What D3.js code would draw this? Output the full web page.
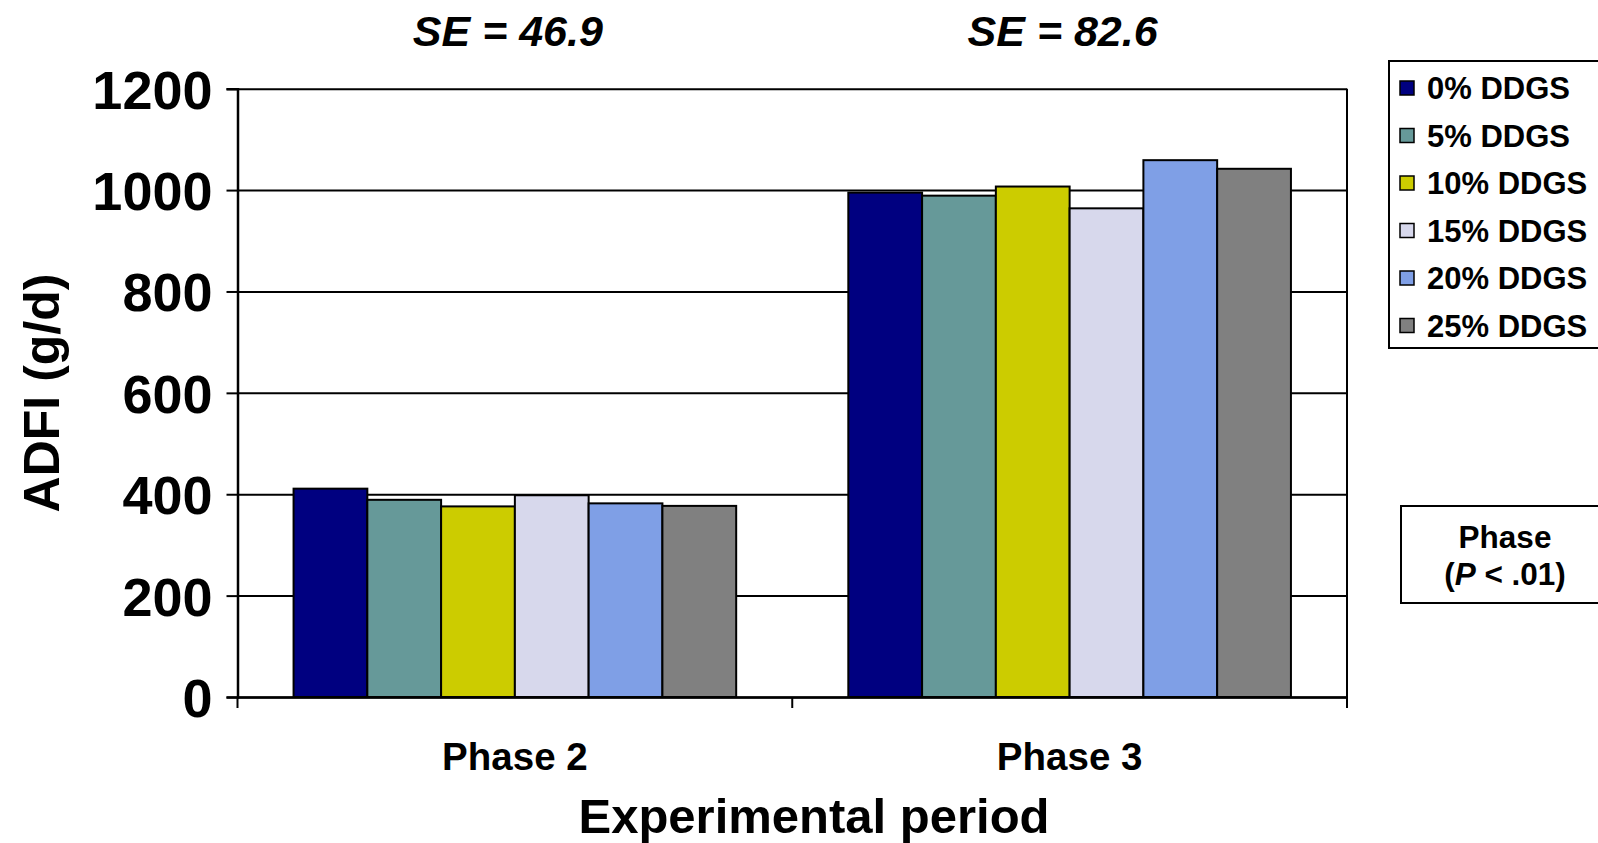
<!DOCTYPE html>
<html>
<head>
<meta charset="utf-8">
<script src="https://cdn.jsdelivr.net/npm/d3@7"></script>
<style>
  html, body { margin: 0; padding: 0; background: #fff; }
  svg { display: block; font-family: "Liberation Sans", Arial, sans-serif; font-weight: bold; }
</style>
</head>
<body>
<svg id="chart" width="1598" height="843"></svg>
<script>
// ---- data ----
const phases = ["Phase 2", "Phase 3"];
const series = ["0% DDGS", "5% DDGS", "10% DDGS", "15% DDGS", "20% DDGS", "25% DDGS"];
const phase2Values = [411, 389, 376, 398, 382, 377];
const phase3Values = [995, 989, 1007, 964, 1059, 1042];
const seLabels = ["SE = 46.9", "SE = 82.6"];
const yTicks = [0, 200, 400, 600, 800, 1000, 1200];
const colors = ["#000080", "#669999", "#CCCC00", "#D7D8EC", "#7F9FE6", "#808080"];

const values = [phase2Values, phase3Values];

// ---- layout ----
const svg = d3.select("#chart");
const plotL = 237.5, plotR = 1347, plotT = 88.7, plotB = 697;

const x0 = d3.scaleBand().domain(phases).range([plotL, plotR]).paddingInner(0).paddingOuter(0);
const x1 = d3.scaleBand().domain(series).range([0, x0.bandwidth()]).paddingInner(0).paddingOuter(0.76);
const y = d3.scaleLinear().domain([0, 1200]).range([plotB, plotT]);
const color = d3.scaleOrdinal().domain(series).range(colors);

// gridlines
const grid = svg.append("g")
  .attr("transform", `translate(${plotL},0)`)
  .call(d3.axisLeft(y).tickValues(yTicks).tickSize(-(plotR - plotL)).tickFormat(""));
grid.select(".domain").remove();
grid.selectAll("line").attr("stroke", "#000").attr("stroke-width", 2);

// right border
svg.append("line").attr("x1", plotR).attr("x2", plotR).attr("y1", plotT).attr("y2", plotB)
  .attr("stroke", "#000").attr("stroke-width", 2);

// bars
const groups = svg.append("g").selectAll("g")
  .data(phases).join("g")
  .attr("transform", d => `translate(${x0(d)},0)`);

groups.selectAll("rect")
  .data((d, i) => series.map((s, j) => ({ s, v: values[i][j] })))
  .join("rect")
  .attr("x", d => x1(d.s))
  .attr("width", x1.bandwidth())
  .attr("y", d => y(d.v))
  .attr("height", d => y(0) - y(d.v))
  .attr("fill", d => color(d.s))
  .attr("stroke", "#000")
  .attr("stroke-width", 2);

// y axis
const yAxis = svg.append("g")
  .attr("transform", `translate(${plotL},0)`)
  .call(d3.axisLeft(y).tickValues(yTicks).tickSize(11).tickPadding(14).tickFormat(d3.format("d")));
yAxis.select(".domain").attr("stroke", "#000").attr("stroke-width", 2.5);
yAxis.selectAll(".tick line").attr("stroke", "#000").attr("stroke-width", 2);
yAxis.selectAll(".tick text")
  .attr("font-size", 54).attr("font-weight", "bold").attr("fill", "#000")
  .attr("font-family", "Liberation Sans, Arial, sans-serif")
  .attr("dy", "0.36em");

// x axis
const xAxis = svg.append("g")
  .attr("transform", `translate(0,${plotB})`)
  .call(d3.axisBottom(x0).tickSize(0).tickPadding(46));
xAxis.select(".domain").attr("stroke", "#000").attr("stroke-width", 2.5);
xAxis.selectAll(".tick text")
  .attr("font-size", 38.5).attr("font-weight", "bold").attr("fill", "#000")
  .attr("font-family", "Liberation Sans, Arial, sans-serif");

// category boundary ticks
const boundaries = [plotL, x0(phases[1]), plotR];
svg.append("g").selectAll("line")
  .data(boundaries).join("line")
  .attr("x1", d => d).attr("x2", d => d)
  .attr("y1", plotB).attr("y2", plotB + 11)
  .attr("stroke", "#000").attr("stroke-width", 2);

// SE labels
svg.append("g").selectAll("text")
  .data(seLabels).join("text")
  .attr("x", (d, i) => x0(phases[i]) + x0.bandwidth() / 2 - 7)
  .attr("y", 46)
  .attr("text-anchor", "middle")
  .attr("font-size", 43)
  .attr("font-style", "italic")
  .attr("font-weight", "bold")
  .text(d => d);

// axis titles
svg.append("text")
  .attr("x", 814).attr("y", 833)
  .attr("text-anchor", "middle")
  .attr("font-size", 49)
  .text("Experimental period");

svg.append("text")
  .attr("transform", "translate(59,393) rotate(-90)")
  .attr("text-anchor", "middle")
  .attr("font-size", 50)
  .text("ADFI (g/d)");

// legend
const legend = svg.append("g");
legend.append("rect")
  .attr("x", 1389).attr("y", 61).attr("width", 215).attr("height", 287)
  .attr("fill", "#fff").attr("stroke", "#000").attr("stroke-width", 2);
const items = legend.selectAll("g.item")
  .data(series).join("g").attr("class", "item")
  .attr("transform", (d, i) => `translate(1400,${88 + i * 47.5})`);
items.append("rect")
  .attr("x", 0).attr("y", -7).attr("width", 14).attr("height", 14)
  .attr("fill", d => color(d)).attr("stroke", "#000").attr("stroke-width", 1.5);
items.append("text")
  .attr("x", 27).attr("y", 0).attr("dy", "0.36em")
  .attr("font-size", 31)
  .text(d => d);

// phase note box
const note = svg.append("g");
note.append("rect")
  .attr("x", 1401).attr("y", 506).attr("width", 200).attr("height", 97)
  .attr("fill", "#fff").attr("stroke", "#000").attr("stroke-width", 2);
note.append("text")
  .attr("x", 1505).attr("y", 548).attr("text-anchor", "middle").attr("font-size", 31.5)
  .text("Phase");
const t2 = note.append("text")
  .attr("x", 1505).attr("y", 585).attr("text-anchor", "middle").attr("font-size", 31.5);
t2.append("tspan").text("(");
t2.append("tspan").attr("font-style", "italic").text("P");
t2.append("tspan").text(" < .01)");
</script>
</body>
</html>
